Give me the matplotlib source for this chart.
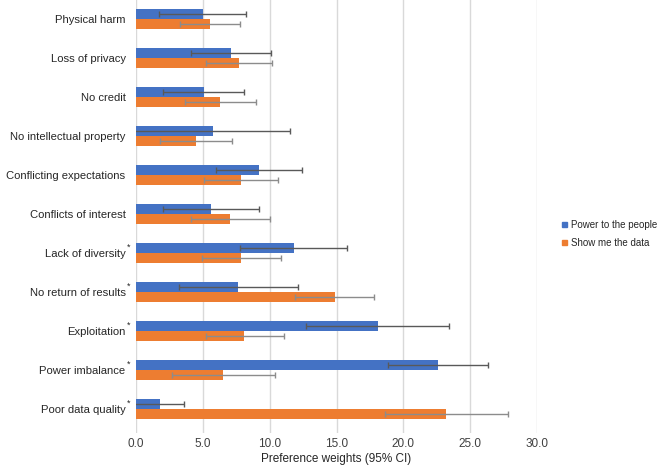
import numpy as np
import matplotlib
matplotlib.use('Agg')
import matplotlib.pyplot as plt
import matplotlib.patches as mpatches

plt.rcParams['font.family'] = ['Liberation Sans', 'DejaVu Sans']

# ── 데이터 ──────────────────────────────────────────────
categories = ['Physical harm', 'Loss of privacy', 'No credit',
              'No intellectual property', 'Conflicting expectations',
              'Conflicts of interest', 'Lack of diversity',
              'No return of results', 'Exploitation', 'Power imbalance',
              'Poor data quality']
starred = [False, False, False, False, False, False, True, True, True, True, True]

power_val = [5.0, 7.1, 5.1, 5.75, 9.2, 5.6, 11.8, 7.65, 18.1, 22.6, 1.8]
power_lo  = [1.7, 4.1, 2.0, -0.3, 6.0, 2.0, 7.75, 3.2, 12.7, 18.85, -0.3]
power_hi  = [8.2, 10.1, 8.1, 11.55, 12.4, 9.2, 15.8, 12.15, 23.4, 26.3, 3.6]

data_val = [5.5, 7.7, 6.3, 4.5, 7.85, 7.05, 7.85, 14.9, 8.1, 6.5, 23.2]
data_lo  = [3.3, 5.2, 3.65, 1.8, 5.05, 4.15, 4.95, 11.9, 5.2, 2.7, 18.6]
data_hi  = [7.8, 10.2, 8.95, 7.2, 10.65, 10.0, 10.85, 17.8, 11.1, 10.4, 27.8]

xticks = [0, 5, 10, 15, 20, 25, 30]

BLUE   = '#4472C4'
ORANGE = '#ED7D31'


def main():
    fig = plt.figure(figsize=(6.6, 4.67), dpi=100)
    W, H = 660, 467
    ax = fig.add_axes([136 / W, (H - 433) / H, 401 / W, 433 / H])

    y = np.arange(len(categories))
    bh = 0.257

    pv = np.array(power_val)
    dv = np.array(data_val)
    p_err = [pv - np.array(power_lo), np.array(power_hi) - pv]
    d_err = [dv - np.array(data_lo), np.array(data_hi) - dv]

    ax.barh(y - bh / 2, pv, height=bh, color=BLUE, zorder=2)
    ax.barh(y + bh / 2, dv, height=bh, color=ORANGE, zorder=2)
    ax.errorbar(pv, y - bh / 2, xerr=p_err, fmt='none', ecolor='#595959',
                elinewidth=1.0, capsize=2.2, capthick=1.0, zorder=3)
    ax.errorbar(dv, y + bh / 2, xerr=d_err, fmt='none', ecolor='#8c8c8c',
                elinewidth=1.0, capsize=2.2, capthick=1.0, zorder=3)

    ax.set_xlim(0, 30)
    ax.set_ylim(10.62, -0.495)
    ax.set_xticks(xticks)
    ax.set_xticklabels([f'{t:.1f}' for t in xticks], fontsize=8.5, color='#404040')
    ax.set_yticks(y)
    ax.set_yticklabels(categories, fontsize=8.1, color='#262626')
    ax.tick_params(axis='both', length=0)
    ax.tick_params(axis='y', pad=7.5)
    ax.tick_params(axis='x', pad=3.5)

    for s in ax.spines.values():
        s.set_visible(False)
    ax.grid(axis='x', color='#d9d9d9', linewidth=1.0, zorder=0)
    ax.set_axisbelow(True)

    ax.set_xlabel('Preference weights (95% CI)', fontsize=8.5, color='#262626',
                  labelpad=2.5)

    # 별표 (유의성 표시)
    trans = matplotlib.transforms.blended_transform_factory(ax.transAxes, ax.transData)
    for i, st in enumerate(starred):
        if st:
            ax.annotate('*', xy=(0, i), xycoords=trans, xytext=(-7, 6),
                        textcoords='offset pixels', ha='center', va='center',
                        fontsize=6.5, color='#262626')

    handles = [mpatches.Patch(color=BLUE, label='Power to the people'),
               mpatches.Patch(color=ORANGE, label='Show me the data')]
    fig.legend(handles=handles, loc='center left',
               bbox_to_anchor=(562 / W, 1 - 234 / H), frameon=False,
               fontsize=7, handlelength=0.5, handleheight=0.5,
               handletextpad=0.4, borderpad=0, borderaxespad=0,
               labelspacing=0.8, labelcolor='#262626')

    fig.savefig('out.png', dpi=100)
    plt.close(fig)


if __name__ == '__main__':
    main()
